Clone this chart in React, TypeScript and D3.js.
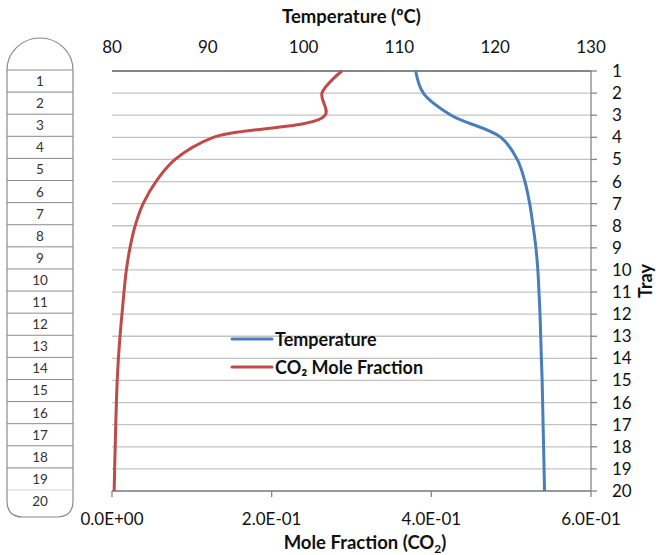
import * as d3 from "d3";

// tray numbers, top to bottom
const trays = [1, 2, 3, 4, 5, 6, 7, 8, 9, 10, 11, 12, 13, 14, 15, 16, 17, 18, 19, 20];

// temperature profile (ºC)
const temperature = [
  111.7, 112.5, 115.4, 120.6, 122.3, 123.1, 123.6, 123.95, 124.25, 124.45,
  124.57, 124.68, 124.75, 124.82, 124.9, 124.95, 125.0, 125.05, 125.1, 125.15,
];

// CO2 mole fraction
const co2 = [
  0.288, 0.263, 0.267, 0.127, 0.079, 0.055, 0.039, 0.029, 0.0225, 0.018,
  0.015, 0.0125, 0.01, 0.008, 0.0065, 0.0055, 0.0047, 0.004, 0.0033, 0.0027,
];

const tempTicks = [80, 90, 100, 110, 120, 130];
const fracTicks = [0, 0.2, 0.4, 0.6];

const FONT = "Lato, 'Open Sans', sans-serif";
const BLUE = "#4a7ebb";
const RED = "#be4b48";
const GRID = "#c3c3c3";
const AXIS = "#868686";
const TEXT = "#111";

export default function App() {
  const width = 658;
  const height = 555;
  const left = 112;
  const right = 591;

  const xTemp = d3.scaleLinear().domain([80, 130]).range([left, right]);
  const xFrac = d3.scaleLinear().domain([0, 0.6]).range([left, right]);
  const y = d3.scaleLinear().domain([1, 20]).range([71, 491]);

  const tempLine = d3
    .line<number>()
    .x((d) => xTemp(d))
    .y((_, i) => y(trays[i]))
    .curve(d3.curveCatmullRom.alpha(0.5));

  const co2Line = d3
    .line<number>()
    .x((d) => xFrac(d))
    .y((_, i) => y(trays[i]))
    .curve(d3.curveCatmullRom.alpha(0.5));

  // column drawing on the left
  const cl = 7;
  const cr = 73;
  const top = y(1) - 1;
  const bottom = y(20) + 26;
  const rb = 16;
  const columnPath = [
    `M${cl},${top}`,
    `A${(cr - cl) / 2},32 0 0 1 ${cr},${top}`,
    `L${cr},${bottom - rb}`,
    `Q${cr},${bottom} ${cr - rb},${bottom}`,
    `L${cl + rb},${bottom}`,
    `Q${cl},${bottom} ${cl},${bottom - rb}`,
    "Z",
  ].join(" ");

  const fmt = (v: number) =>
    v.toExponential(1).replace(/e([+-])(\d)$/, "E$10$2").toUpperCase();

  return (
    <svg
      width={width}
      height={height}
      style={{ position: "absolute", left: 0, top: 0, background: "#fff" }}
      fontFamily={FONT}
    >
      {/* tray column */}
      <path d={columnPath} fill="none" stroke="#8a8a8a" strokeWidth={1.2} />
      {trays.map((t) => (
        <g key={`row${t}`}>
          <line
            x1={cl}
            x2={cr}
            y1={y(t) - 1}
            y2={y(t) - 1}
            stroke={t === 20 ? "#d0d0d0" : "#8a8a8a"}
            strokeWidth={1}
          />
          <text
            x={(cl + cr) / 2}
            y={y(t) + 15}
            textAnchor="middle"
            fontSize={13.5}
            fill="#333"
          >
            {t}
          </text>
        </g>
      ))}

      {/* horizontal gridlines */}
      {trays.map((t) => (
        <line
          key={`g${t}`}
          x1={left}
          x2={right}
          y1={y(t)}
          y2={y(t)}
          stroke={t === 1 ? AXIS : GRID}
          strokeWidth={t === 1 ? 2 : 1.3}
        />
      ))}

      {/* right axis */}
      <line x1={right} x2={right} y1={y(1)} y2={y(20)} stroke={AXIS} strokeWidth={1.3} />
      {trays.map((t) => (
        <g key={`r${t}`}>
          <line x1={right} x2={right + 6} y1={y(t)} y2={y(t)} stroke={AXIS} strokeWidth={1.3} />
          <text x={right + 21} y={y(t) + 6} fontSize={17} fill={TEXT}>
            {t}
          </text>
        </g>
      ))}
      <text
        transform={`translate(${652},${y(10.5)}) rotate(-90)`}
        textAnchor="middle"
        fontSize={18}
        fontWeight="bold"
        fill={TEXT}
      >
        Tray
      </text>

      {/* bottom axis */}
      <line x1={left} x2={right} y1={y(20)} y2={y(20)} stroke={AXIS} strokeWidth={1.3} />
      {fracTicks.map((v) => (
        <g key={`b${v}`}>
          <line x1={xFrac(v)} x2={xFrac(v)} y1={y(20)} y2={y(20) + 6} stroke={AXIS} strokeWidth={1.3} />
          <text x={xFrac(v)} y={525} textAnchor="middle" fontSize={17} fill={TEXT}>
            {fmt(v)}
          </text>
        </g>
      ))}
      <text x={365} y={549} textAnchor="middle" fontSize={18.5} fontWeight="bold" fill={TEXT}>
        Mole Fraction (CO
        <tspan fontSize={12} dy={4}>2</tspan>
        <tspan dy={-4}>)</tspan>
      </text>

      {/* top axis */}
      {tempTicks.map((v) => (
        <text key={`t${v}`} x={xTemp(v)} y={53} textAnchor="middle" fontSize={17} fill={TEXT}>
          {v}
        </text>
      ))}
      <text x={(left + right) / 2} y={23} textAnchor="middle" fontSize={18.5} fontWeight="bold" fill={TEXT}>
        Temperature (ºC)
      </text>

      {/* series */}
      <path d={co2Line(co2) ?? ""} fill="none" stroke={RED} strokeWidth={3} strokeLinejoin="round" />
      <path d={tempLine(temperature) ?? ""} fill="none" stroke={BLUE} strokeWidth={3} strokeLinejoin="round" />

      {/* legend */}
      <g>
        <line x1={232} x2={272} y1={339} y2={339} stroke={BLUE} strokeWidth={3} strokeLinecap="round" />
        <text x={275} y={346} fontSize={18} fontWeight="bold" fill={TEXT}>
          Temperature
        </text>
        <line x1={232} x2={272} y1={367} y2={367} stroke={RED} strokeWidth={3} strokeLinecap="round" />
        <text x={275} y={374} fontSize={18} fontWeight="bold" fill={TEXT}>
          CO₂ Mole Fraction
        </text>
      </g>
    </svg>
  );
}
